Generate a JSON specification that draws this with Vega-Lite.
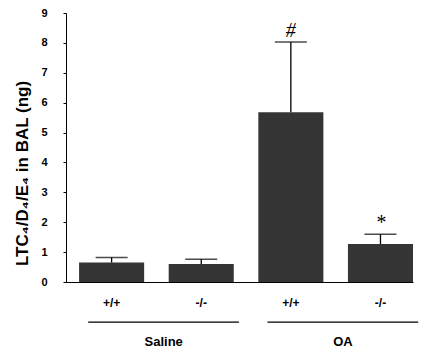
{
  "$schema": "https://vega.github.io/schema/vega-lite/v6.json",
  "width": 347,
  "height": 269,
  "autosize": {"type": "none"},
  "padding": {"left": 66, "top": 13, "right": 8, "bottom": 67},
  "background": "white",
  "config": {
    "view": {"stroke": null},
    "font": "Liberation Sans",
    "axis": {"grid": false, "domainColor": "black", "tickColor": "black", "labelColor": "black", "titleColor": "black", "labelFont": "Liberation Sans", "titleFont": "Liberation Sans"},
    "axisY": {"labelOverlap": false, "labelFlush": false, "tickSize": 3, "labelPadding": 16, "labelFontSize": 11, "labelFontWeight": "bold", "titleFontSize": 17, "titleFontWeight": "bold", "titlePadding": 9, "titleY": 160, "domainWidth": 1}
  },
  "datasets": {
    "bars": [
      {"key": "Saline +/+", "group": "Saline", "geno": "+/+", "value": 0.65, "upper": 0.82, "mark": ""},
      {"key": "Saline -/-", "group": "Saline", "geno": "-/-", "value": 0.6, "upper": 0.76, "mark": ""},
      {"key": "OA +/+", "group": "OA", "geno": "+/+", "value": 5.68, "upper": 8.03, "mark": "#"},
      {"key": "OA -/-", "group": "OA", "geno": "-/-", "value": 1.27, "upper": 1.6, "mark": "*"}
    ],
    "groups": [
      {"group": "Saline", "start": "Saline +/+", "end": "Saline -/-"},
      {"group": "OA", "start": "OA +/+", "end": "OA -/-"}
    ]
  },
  "layer": [
    {
      "data": {"name": "bars"},
      "mark": {"type": "bar", "color": "#353535"},
      "encoding": {
        "x": {
          "field": "key", "type": "nominal", "sort": null,
          "scale": {"domain": ["Saline +/+", "Saline -/-", "OA +/+", "OA -/-"], "paddingInner": 0.274, "paddingOuter": 0.073, "align": 1},
          "axis": {"title": null, "labelAngle": 0, "ticks": false, "labelPadding": 15, "labelFontSize": 12, "labelFontWeight": "bold", "domainWidth": 1, "labelExpr": "split(datum.label, ' ')[1]"}
        },
        "y": {
          "field": "value", "type": "quantitative",
          "scale": {"domain": [0, 9], "nice": false},
          "axis": {"title": "LTC₄/D₄/E₄ in BAL (ng)", "values": [0, 1, 2, 3, 4, 5, 6, 7, 8, 9]}
        }
      }
    },
    {
      "data": {"name": "bars"},
      "mark": {"type": "rule", "color": "black", "strokeWidth": 1.3},
      "encoding": {
        "x": {"field": "key", "type": "nominal", "sort": null},
        "y": {"field": "value", "type": "quantitative", "axis": {"title": "LTC₄/D₄/E₄ in BAL (ng)", "values": [0, 1, 2, 3, 4, 5, 6, 7, 8, 9]}},
        "y2": {"field": "upper"}
      }
    },
    {
      "data": {"name": "bars"},
      "mark": {"type": "tick", "color": "black", "orient": "horizontal", "size": 32, "thickness": 1.5},
      "encoding": {
        "x": {"field": "key", "type": "nominal", "sort": null},
        "y": {"field": "upper", "type": "quantitative", "axis": {"title": "LTC₄/D₄/E₄ in BAL (ng)", "values": [0, 1, 2, 3, 4, 5, 6, 7, 8, 9]}}
      }
    },
    {
      "data": {"name": "bars"},
      "mark": {"type": "text", "color": "black", "fontSize": 20, "baseline": "middle", "dy": -11, "font": "Liberation Serif", "fontStyle": "italic"},
      "encoding": {
        "x": {"field": "key", "type": "nominal", "sort": null},
        "y": {"field": "upper", "type": "quantitative", "axis": {"title": "LTC₄/D₄/E₄ in BAL (ng)", "values": [0, 1, 2, 3, 4, 5, 6, 7, 8, 9]}},
        "text": {"field": "mark"}
      }
    },
    {
      "data": {"name": "groups"},
      "mark": {"type": "rule", "color": "black", "strokeWidth": 1.2, "clip": false},
      "encoding": {
        "x": {"field": "start", "type": "nominal", "bandPosition": 0.14},
        "x2": {"field": "end", "bandPosition": 1.08},
        "y": {"datum": -1.34, "type": "quantitative", "axis": {"title": "LTC₄/D₄/E₄ in BAL (ng)", "values": [0, 1, 2, 3, 4, 5, 6, 7, 8, 9]}}
      }
    },
    {
      "data": {"name": "groups"},
      "mark": {"type": "text", "color": "black", "fontSize": 13, "fontWeight": "bold", "baseline": "middle", "clip": false},
      "encoding": {
        "x": {"field": "start", "type": "nominal", "bandPosition": 1.3},
        "y": {"datum": -2.0, "type": "quantitative", "axis": {"title": "LTC₄/D₄/E₄ in BAL (ng)", "values": [0, 1, 2, 3, 4, 5, 6, 7, 8, 9]}},
        "text": {"field": "group"}
      }
    }
  ]
}
